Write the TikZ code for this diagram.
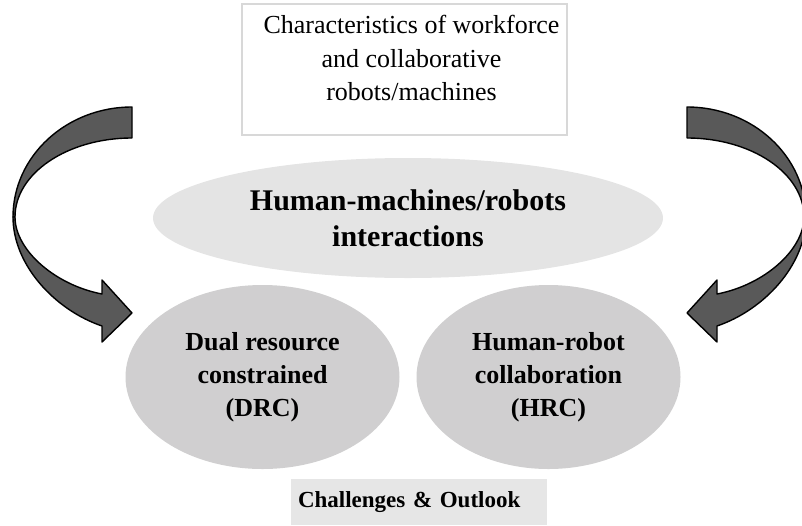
\documentclass[tikz,border=0pt]{standalone}
\usepackage{fontspec}
\setmainfont{Liberation Serif}
\usetikzlibrary{shapes.geometric}

\definecolor{arrowfill}{RGB}{89,89,89}
\definecolor{hmifill}{RGB}{228,228,228}
\definecolor{topicfill}{RGB}{208,207,208}
\definecolor{outlookfill}{RGB}{230,230,230}
\definecolor{boxline}{RGB}{216,216,216}

\newcommand{\bendarrow}{%
\draw[band] (132,107) arc[start angle=270,end angle=180,x radius=119,y radius=110] -- (15,217) arc[start angle=180,end angle=270,x radius=117,y radius=79] -- cycle;
\draw[band] (13,217) .. controls (13,265) and (55,310) .. (102,326) -- (102,342) -- (132,313) -- (102,280) -- (102,294) .. controls (55,285) and (15,250) .. (15,217) -- cycle;
}

\begin{document}
\begin{tikzpicture}[x=1pt,y=-1pt,
  band/.style={fill=arrowfill,draw=black,line width=1.4pt,line join=round},
  topic/.style={ellipse,fill=topicfill,inner sep=0pt,minimum width=274,minimum height=184,align=center,font=\fontsize{26}{33}\selectfont\bfseries}]
\useasboundingbox (0,0) rectangle (802,525);
%\draw[very thin,color=gray] (0,0) grid[step=50] (802,525);
\node[draw=boxline,line width=1.5pt,minimum width=325,minimum height=131] (chars) at (404.5,69.5) {};
\node[align=center,font=\fontsize{26}{33.5}\selectfont] (chartext) at (411.5,58) {Characteristics of workforce\\and collaborative\\robots/machines};
\node[ellipse,fill=hmifill,minimum width=510,minimum height=120,inner sep=0pt,align=center,font=\fontsize{30}{36}\selectfont\bfseries] (hmi) at (408,218) {Human-machines/robots\\interactions};
\node[topic] (drc) at (262.5,377) {Dual resource\\constrained\\(DRC)};
\node[topic,minimum width=264] (hrc) at (548.5,377) {Human-robot\\collaboration\\(HRC)};
\node[fill=outlookfill,minimum width=256,minimum height=46,text width=242,align=left,inner xsep=7pt,font=\fontsize{23}{28}\selectfont\bfseries] (outlook) at (419,502) {Challenges \& Outlook};
\bendarrow
\begin{scope}[shift={(819,0)},xscale=-1]
\bendarrow
\end{scope}
\end{tikzpicture}
\end{document}
